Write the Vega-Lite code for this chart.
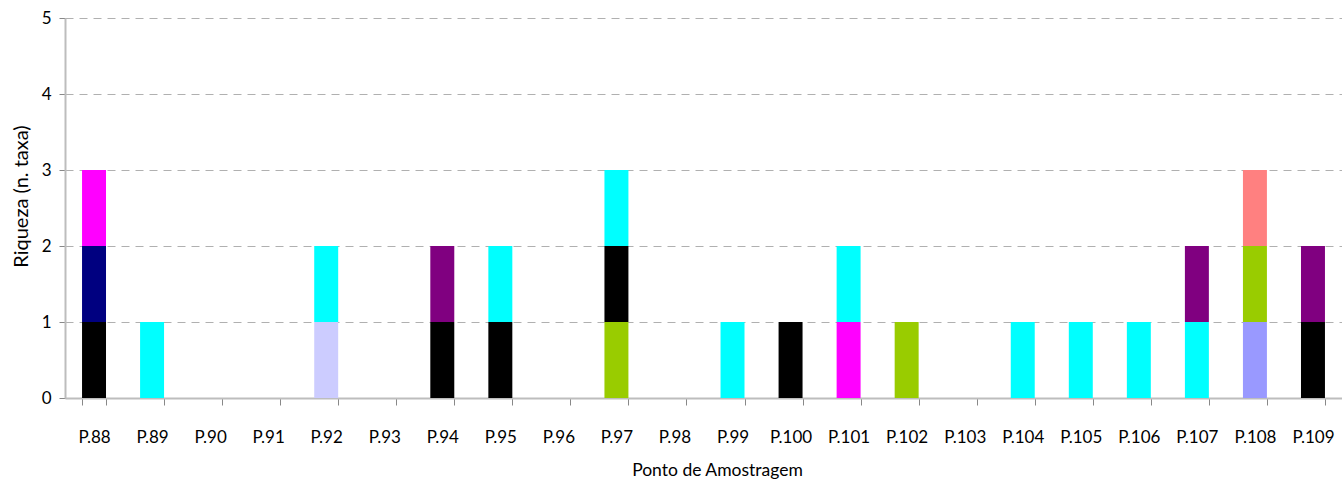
{
  "$schema": "https://vega.github.io/schema/vega-lite/v6.json",
  "width": 1277,
  "height": 380,
  "autosize": "none",
  "padding": {"left": 65, "top": 18, "right": 0, "bottom": 85},
  "config": {
    "view": {"stroke": null},
    "font": "Lato",
    "axis": {"labelFont": "Lato", "titleFont": "Lato", "labelColor": "#000000", "titleColor": "#000000", "titleFontWeight": "normal"}
  },
  "data": {
    "values": [
      {"ponto": "P.88", "taxon": "s3", "n": 1},
      {"ponto": "P.88", "taxon": "s4", "n": 1},
      {"ponto": "P.88", "taxon": "s5", "n": 1},
      {"ponto": "P.89", "taxon": "s7", "n": 1},
      {"ponto": "P.92", "taxon": "s6", "n": 1},
      {"ponto": "P.92", "taxon": "s7", "n": 1},
      {"ponto": "P.94", "taxon": "s3", "n": 1},
      {"ponto": "P.94", "taxon": "s8", "n": 1},
      {"ponto": "P.95", "taxon": "s3", "n": 1},
      {"ponto": "P.95", "taxon": "s7", "n": 1},
      {"ponto": "P.97", "taxon": "s2", "n": 1},
      {"ponto": "P.97", "taxon": "s3", "n": 1},
      {"ponto": "P.97", "taxon": "s7", "n": 1},
      {"ponto": "P.99", "taxon": "s7", "n": 1},
      {"ponto": "P.100", "taxon": "s3", "n": 1},
      {"ponto": "P.101", "taxon": "s5", "n": 1},
      {"ponto": "P.101", "taxon": "s7", "n": 1},
      {"ponto": "P.102", "taxon": "s2", "n": 1},
      {"ponto": "P.104", "taxon": "s7", "n": 1},
      {"ponto": "P.105", "taxon": "s7", "n": 1},
      {"ponto": "P.106", "taxon": "s7", "n": 1},
      {"ponto": "P.107", "taxon": "s7", "n": 1},
      {"ponto": "P.107", "taxon": "s8", "n": 1},
      {"ponto": "P.108", "taxon": "s1", "n": 1},
      {"ponto": "P.108", "taxon": "s2", "n": 1},
      {"ponto": "P.108", "taxon": "s9", "n": 1},
      {"ponto": "P.109", "taxon": "s3", "n": 1},
      {"ponto": "P.109", "taxon": "s8", "n": 1}
    ]
  },
  "mark": {"type": "bar"},
  "encoding": {
    "x": {
      "field": "ponto",
      "type": "nominal",
      "sort": null,
      "scale": {
        "domain": ["P.88","P.89","P.90","P.91","P.92","P.93","P.94","P.95","P.96","P.97","P.98","P.99","P.100","P.101","P.102","P.103","P.104","P.105","P.106","P.107","P.108","P.109"],
        "paddingInner": 0.587,
        "paddingOuter": 0.2935
      },
      "axis": {
        "title": "Ponto de Amostragem",
        "titleFontSize": 17.5,
        "titlePadding": 16,
        "titleX": 652,
        "labelFontSize": 17,
        "labelAngle": 0,
        "labelPadding": 24,
        "tickBand": "extent",
        "tickSize": 7,
        "tickColor": "#888888",
        "domainColor": "#bdbdbd",
        "domainWidth": 2,
        "grid": false
      }
    },
    "y": {
      "field": "n",
      "type": "quantitative",
      "stack": "zero",
      "scale": {"domain": [0, 5], "nice": false},
      "axis": {
        "title": "Riqueza (n. taxa)",
        "titleFontSize": 20,
        "titlePadding": 10,
        "titleY": 178,
        "labelFontSize": 17,
        "labelPadding": 8,
        "values": [0, 1, 2, 3, 4, 5],
        "tickSize": 6,
        "tickColor": "#888888",
        "domainColor": "#bdbdbd",
        "domainWidth": 2,
        "grid": true,
        "gridColor": "#b0b0b0",
        "gridDash": [8, 6],
        "gridWidth": 1
      }
    },
    "color": {
      "field": "taxon",
      "type": "nominal",
      "scale": {
        "domain": ["s1","s2","s3","s4","s5","s6","s7","s8","s9"],
        "range": ["#9999FF","#99CC00","#000000","#000080","#FF00FF","#CCCCFF","#00FFFF","#800080","#FF8080"]
      },
      "legend": null
    },
    "order": {"field": "taxon", "type": "ordinal", "sort": "ascending"}
  }
}
